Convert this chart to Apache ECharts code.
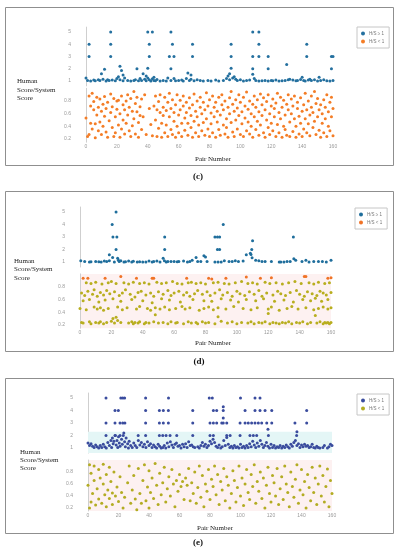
<!DOCTYPE html>
<html><head><meta charset="utf-8">
<script src="https://cdn.jsdelivr.net/npm/echarts@6/dist/echarts.min.js"></script>
<style>html,body{margin:0;padding:0;background:#fff}#chart{width:398px;height:550px}</style>
</head><body><div id="chart"></div>
<script>
// ---------- tick labels / text ----------
const xTicks = [0, 20, 40, 60, 80, 100, 120, 140, 160];
const yUpperTicks = [1, 2, 3, 4, 5];
const yLowerTicks = [0.2, 0.4, 0.6, 0.8];
const legendLabels = ['H/S \u2265 1', 'H/S < 1'];
const panelLabels = ['(c)', '(d)', '(e)'];
const yTitle = 'Human\nScore/System\nScore';
const xTitle = 'Pair Number';

// ---------- panel (c) ----------
const cHi = [[2,4],[2,3],[16,5],[16,4],[16,3],[40,5],[43,5],[41,4],[41,3],[55,5],[56,4],[54,3],[57,3],[69,4],[69,3],[94,4],[94,3],[108,5],[112,5],[112,4],[108,3],[112,3],[118,3],[143,4],[143,3],[159,3],[160,3],
[12,1.95],[22,2.2],[23,1.85],[33,2.0],[40,2.05],[55,2.0],[94,2.05],[108,2.0],[118,2.0],[130,2.35],[159,2.0],[10,1.6],[24,1.5],[37,1.6],[66,1.65],[68,1.5],[93,1.6],[108,1.55],[92,1.4],[96,1.35],[21,1.35],[39,1.4],[44,1.3],[140,1.3],[151,1.3],
[0,1.25],[1,1.05],[3,1.0],[5,1.08],[6,1.02],[8,1.1],[9,1.05],[11,1.15],[13,1.0],[14,1.1],[15,1.05],[17,1.08],[19,1.03],[20,1.2],[22,1.1],[24,1.02],[25,1.25],[27,1.05],[29,1.0],[31,1.05],[32,1.1],[34,1.02],[35,1.2],[36,1.05],[38,1.15],[39,1.03],[40,1.25],[41,1.1],[42,1.0],[43,1.18],[44,1.05],[45,1.02],[46,1.12],[48,1.0],[50,1.05],[52,1.0],[53,1.25],[55,1.05],[57,1.2],[58,1.03],[60,1.05],[62,1.08],[63,1.0],[65,1.2],[67,1.05],[68,1.15],[70,1.02],[72,1.1],[74,1.05],[76,1.0],[79,1.05],[81,1.0],[84,1.08],[86,1.0],[89,1.05],[91,1.2],[93,1.1],[95,1.25],[97,1.15],[98,1.05],[100,1.1],[102,1.0],[104,1.05],[106,1.08],[109,1.2],[110,1.05],[112,1.0],[114,1.03],[116,1.05],[118,1.0],[120,1.05],[121,1.02],[123,1.08],[125,1.0],[127,1.03],[129,1.05],[131,1.1],[132,1.15],[134,1.08],[136,1.02],[137,1.05],[139,1.12],[141,1.05],[142,1.0],[144,1.08],[145,1.15],[146,1.05],[148,1.1],[150,1.0],[152,1.05],[154,1.1],[156,1.03],[158,1.0],[160,1.05]];
const cLo = [[0,0.53],[1,0.24],[2,0.88],[2,0.27],[3,0.72],[3,0.45],[4,0.92],[4,0.36],[5,0.66],[5,0.79],[6,0.44],[6,0.22],[7,0.86],[7,0.58],[8,0.7],[8,0.33],[9,0.83],[9,0.47],[10,0.27],[10,0.64],[11,0.75],[11,0.4],[12,0.87],[12,0.56],[13,0.31],[13,0.68],[14,0.23],[14,0.78],[15,0.49],[16,0.91],[16,0.62],[17,0.38],[17,0.71],[18,0.24],[18,0.84],[19,0.55],[19,0.3],[20,0.8],[20,0.67],[21,0.81],[21,0.42],[22,0.23],[22,0.6],[23,0.88],[23,0.36],[24,0.74],[24,0.5],[25,0.28],[25,0.66],[26,0.8],[26,0.45],[27,0.9],[27,0.58],[28,0.33],[28,0.7],[29,0.24],[29,0.84],[30,0.64],[30,0.41],[31,0.95],[31,0.52],[32,0.76],[32,0.28],[33,0.63],[33,0.86],[34,0.46],[34,0.23],[35,0.71],[35,0.57],[36,0.83],[36,0.35],[37,0.55],[38,0.9],[39,0.27],[41,0.68],[42,0.43],[43,0.25],[44,0.72],[45,0.88],[45,0.5],[46,0.66],[46,0.24],[47,0.79],[47,0.37],[48,0.62],[48,0.9],[49,0.45],[49,0.23],[50,0.7],[50,0.57],[51,0.86],[51,0.3],[52,0.65],[52,0.42],[53,0.78],[53,0.24],[54,0.55],[54,0.92],[55,0.35],[55,0.68],[56,0.82],[56,0.27],[57,0.48],[57,0.62],[58,0.74],[58,0.23],[59,0.9],[59,0.4],[60,0.58],[60,0.3],[61,0.81],[61,0.66],[62,0.45],[62,0.24],[63,0.72],[63,0.88],[64,0.53],[64,0.34],[65,0.62],[65,0.78],[66,0.26],[66,0.45],[67,0.85],[67,0.69],[68,0.38],[68,0.57],[69,0.23],[69,0.74],[70,0.91],[70,0.48],[71,0.64],[71,0.3],[72,0.8],[72,0.55],[73,0.42],[73,0.24],[74,0.7],[74,0.86],[75,0.33],[75,0.6],[76,0.78],[76,0.46],[77,0.26],[77,0.66],[78,0.93],[78,0.52],[79,0.36],[79,0.72],[80,0.82],[80,0.24],[81,0.61],[81,0.44],[82,0.88],[82,0.3],[83,0.7],[83,0.55],[84,0.23],[84,0.78],[85,0.47],[85,0.64],[86,0.86],[86,0.35],[87,0.58],[87,0.26],[88,0.74],[88,0.9],[89,0.42],[89,0.66],[90,0.28],[90,0.8],[91,0.52],[91,0.38],[92,0.7],[92,0.23],[93,0.85],[93,0.6],[94,0.95],[94,0.46],[95,0.31],[95,0.75],[96,0.64],[96,0.24],[97,0.82],[97,0.5],[98,0.36],[98,0.69],[99,0.9],[99,0.57],[100,0.27],[100,0.78],[101,0.44],[101,0.63],[102,0.86],[102,0.24],[103,0.53],[103,0.72],[104,0.33],[104,0.94],[105,0.67],[105,0.47],[106,0.8],[106,0.28],[107,0.6],[107,0.4],[108,0.75],[108,0.23],[109,0.88],[109,0.55],[110,0.35],[110,0.7],[111,0.82],[111,0.48],[112,0.26],[112,0.63],[113,0.91],[113,0.42],[114,0.57],[114,0.74],[115,0.3],[115,0.85],[116,0.66],[116,0.23],[117,0.5],[117,0.79],[118,0.38],[118,0.9],[119,0.6],[119,0.27],[120,0.72],[120,0.45],[121,0.83],[121,0.33],[122,0.55],[122,0.68],[123,0.24],[123,0.77],[124,0.92],[124,0.43],[125,0.62],[125,0.3],[126,0.86],[126,0.52],[127,0.7],[127,0.23],[128,0.4],[128,0.81],[129,0.58],[129,0.35],[130,0.75],[130,0.26],[131,0.66],[131,0.9],[132,0.47],[132,0.24],[133,0.83],[133,0.6],[134,0.32],[134,0.72],[135,0.52],[135,0.88],[136,0.4],[136,0.23],[137,0.68],[137,0.78],[138,0.28],[138,0.56],[139,0.85],[139,0.45],[140,0.64],[140,0.24],[141,0.74],[141,0.36],[142,0.92],[142,0.52],[143,0.3],[143,0.66],[144,0.8],[144,0.44],[145,0.58],[145,0.25],[146,0.7],[146,0.88],[147,0.38],[147,0.62],[148,0.95],[148,0.48],[149,0.27],[149,0.76],[150,0.55],[150,0.84],[151,0.66],[151,0.34],[152,0.74],[152,0.23],[153,0.6],[153,0.45],[154,0.82],[154,0.3],[155,0.7],[155,0.52],[156,0.24],[156,0.9],[157,0.63],[157,0.4],[158,0.78],[158,0.33],[159,0.55],[159,0.86],[160,0.68],[160,0.25]];

// ---------- panel (d) ----------
const dHi = [[20.5,4],[21,3],[23.5,3],[23,2],[23,5],[54,3],[54,2],[86,3],[87.6,3],[89,3],[91.3,4],[87.6,2],[89,2],[110,2.7],[109.5,2.0],[109,1.6],[136,3.0],
[0.5,1.1],[3,1.05],[6,1.0],[7,1.02],[10,1.05],[12,1.03],[13.5,1.0],[15.5,1.08],[17,1.05],[18.7,1.1],[18.7,1.58],[20.8,1.37],[21.9,1.0],[24,1.3],[24.5,1.15],[25,1.05],[26,1.1],[28,1.0],[29,1.02],[31,1.08],[33,1.0],[34,1.07],[36.5,1.0],[38,1.02],[40,1.0],[42,1.0],[44,1.08],[46,1.0],[47,1.05],[49,1.08],[51,1.0],[53,1.3],[53.8,1.1],[55,1.0],[56,1.05],[58,1.05],[60,1.05],[62,1.02],[63,1.05],[66,1.08],[68.5,1.0],[70,1.05],[71.5,1.15],[74,1.37],[75,1.05],[77,1.05],[79,1.5],
[80,1.4],[81,1.05],[86,1.0],[88,1.0],[90,1.0],[92,1.1],[95,1.05],[97,1.05],[99,1.1],[101,1.05],[104,1.08],[106,1.58],[108.6,1.7],[109.7,1.35],[112,1.15],[114,1.1],[116,1.05],[118,1.05],[122,1.05],[127,1.0],[128,1.0],[130,1.0],[132,1.05],[134,1.05],[136.3,1.26],[137.5,1.15],[141.5,1.05],[144,1.15],[146,1.0],[149,1.05],[152,1.05],[154.5,1.05],[157,1.0],[160,1.15]];
const dLoTop = [[2,0.93],[5,0.93],[16,0.93],[26,0.96],[36,0.93],[46,0.93],[47,0.93],[68,0.93],[82,0.93],[84,0.92],[93,0.93],[106,0.95],[115,0.93],[122,0.94],[143,0.96],[144,0.96],[158,0.93],[160,0.94]];
const dLo = [[4,0.86],[7,0.85],[10,0.87],[14,0.84],[18,0.86],[20,0.88],[23,0.85],[28,0.86],[31,0.84],[34,0.87],[38,0.85],[41,0.86],[44,0.84],[49,0.87],[52,0.85],[55,0.86],[59,0.88],[62,0.85],[65,0.84],[69,0.86],[71,0.87],[74,0.85],[77,0.86],[80,0.84],[85,0.86],[88,0.87],[92,0.85],[95,0.84],[99,0.86],[103,0.88],[107,0.85],[110,0.86],[113,0.84],[118,0.87],[121,0.85],[125,0.86],[129,0.84],[133,0.86],[137,0.88],[141,0.85],[146,0.86],[149,0.84],[152,0.87],[156,0.85],[159,0.86],
[1,0.7],[3,0.66],[5,0.73],[8,0.68],[9,0.75],[11,0.65],[13,0.71],[15,0.67],[17,0.74],[19,0.69],[22,0.72],[25,0.66],[27,0.7],[29,0.75],[32,0.68],[35,0.64],[37,0.71],[39,0.73],[42,0.67],[45,0.7],[47,0.65],[50,0.72],[53,0.68],[56,0.74],[58,0.66],[60,0.7],[63,0.73],[66,0.67],[68,0.71],[70,0.65],[73,0.69],[75,0.74],[78,0.68],[81,0.72],[83,0.66],[86,0.7],[89,0.75],[91,0.67],[94,0.71],[97,0.65],[100,0.73],[102,0.69],[105,0.66],[108,0.72],[111,0.68],[114,0.74],[116,0.65],[119,0.7],[123,0.67],[126,0.73],[128,0.69],[131,0.66],[134,0.71],[138,0.74],[140,0.68],[143,0.65],[145,0.72],[148,0.69],[151,0.66],[153,0.73],[155,0.7],[157,0.67],[160,0.71],
[2,0.58],[6,0.6],[12,0.56],[16,0.59],[21,0.61],[26,0.57],[33,0.6],[40,0.58],[46,0.55],[52,0.61],[57,0.59],[64,0.56],[72,0.6],[79,0.58],[84,0.57],[90,0.61],[96,0.59],[101,0.56],[106,0.6],[112,0.58],[117,0.61],[124,0.57],[130,0.59],[136,0.56],[142,0.6],[147,0.58],[150,0.62],[154,0.57],[158,0.6],
[0,0.46],[4,0.44],[9,0.48],[11,0.45],[13,0.47],[15,0.43],[18,0.46],[24,0.48],[27,0.44],[30,0.47],[36,0.45],[38,0.49],[43,0.46],[45,0.43],[48,0.47],[51,0.45],[54,0.48],[57,0.44],[61,0.46],[65,0.49],[67,0.45],[70,0.47],[76,0.43],[79,0.46],[82,0.48],[85,0.44],[88,0.47],[93,0.45],[98,0.49],[104,0.46],[109,0.44],[113,0.47],[120,0.45],[122,0.48],[127,0.43],[132,0.46],[135,0.49],[139,0.45],[144,0.47],[149,0.44],[152,0.46],[155,0.48],[158,0.45],[160,0.47],
[21,0.3],[23,0.32],[48,0.36],[88,0.33],[120,0.38],[150,0.35],
[1,0.24],[2,0.23],[6,0.25],[7,0.22],[10,0.24],[12,0.23],[13,0.25],[15,0.22],[17,0.24],[20,0.26],[22,0.23],[24,0.27],[26,0.24],[31,0.23],[33,0.25],[34,0.22],[35,0.24],[37,0.23],[38,0.25],[41,0.22],[42,0.24],[44,0.23],[47,0.25],[50,0.23],[53,0.24],[56,0.22],[58,0.25],[61,0.23],[62,0.24],[66,0.22],[69,0.25],[71,0.23],[74,0.24],[75,0.22],[78,0.25],[80,0.23],[82,0.24],[86,0.22],[90,0.26],[94,0.23],[97,0.25],[100,0.22],[103,0.24],[107,0.23],[109,0.25],[111,0.22],[114,0.24],[116,0.23],[118,0.25],[121,0.22],[123,0.24],[125,0.23],[127,0.22],[129,0.24],[131,0.23],[133,0.25],[135,0.22],[138,0.24],[140,0.23],[142,0.25],[145,0.22],[147,0.24],[151,0.23],[153,0.25],[155,0.22],[156,0.24],[157,0.23],[158,0.24],[159,0.22],[160,0.24]];

// ---------- panel (e) ----------
const eHi = [[11.8,5],[21.5,5],[22.8,5],[24,5],[37.8,5],[52.8,5],[79.5,5],[81.5,5],[100,5],[109.5,5],[112.8,5],
[17.7,4],[19.9,4],[37.8,4],[46.8,4],[49.4,4],[52.7,4],[68.7,4],[82.2,4],[84.4,4],[88.7,4],[103,4],[109.5,4],[112.8,4],[116.1,4],[120.5,4],[143.4,4],[88.7,4.3],[88.7,3.4],
[11.8,3],[17.7,3],[21,3],[22.8,3],[24.2,3],[37.8,3],[46.8,3],[49.4,3],[52.7,3],[68.7,3],[80,3],[82.2,3],[84.4,3],[87.7,3],[88.7,3],[91,3],[99.7,3],[103,3],[105.1,3],[107.3,3],[109.5,3],[111.7,3],[113.9,3],[117.2,3],[120.5,3],[135.7,3],[143.4,3],
[11.8,2],[17.7,2],[21,2],[23.1,2],[32.9,2],[37.8,2],[46.8,2],[49,2],[51.2,2],[53.8,2],[58.2,2],[68.7,2],[80,2],[82.2,2],[91,2],[93.2,2],[99.7,2],[106.2,2],[108.4,2],[110.6,2],[118.3,2],[136.8,2],[118,2.5],[137,2.3],
[0,1.4],[1,1.2],[2,1.35],[3,1.15],[4,1.05],[5,1.25],[6,1.1],[7,1.0],[8,1.2],[9,1.05],[10,1.3],[11,1.1],[12,1.0],[13,1.45],[14,1.2],[15,1.6],[15.5,1.05],[16,1.8],[16.5,1.35],[17,1.55],[18,2.0],[18.5,1.25],[19,1.6],[19.5,1.05],[20,1.9],[20.5,1.4],[21,1.15],[22,1.7],[22.5,1.3],[23.5,2.2],[24,1.5],[24.5,1.1],[25,1.8],[26,1.35],[26.5,1.0],[27,1.55],[28,1.2],[29,1.05],[30,1.4],[31,1.2],[32,1.05],[33,1.6],[34,1.25],[35,1.45],[36,1.1],[37,1.3],[38,1.05],[39,1.5],[40,1.2],[41,1.35],[42,1.05],[43,1.25],[44,1.1],[45,1.0],[46,1.3],[47,1.15],[48,1.0],[49,1.05],[50,1.2],[51,1.0],[52,1.4],[53,1.1],[54,1.5],[55,1.25],[56,1.05],[57,1.3],[58,1.4],[59,1.15],[60,1.2],[61,1.0],[62,1.3],[63,1.1],[64,1.35],[65,1.05],[66,1.5],[67,1.2],[68,1.25],[69,1.1],[70,1.05],[72,1.1],[73,1.0],[74,1.2],[75,1.45],[76,1.15],[77,1.3],[78,1.05],[79,1.2],[80,1.55],[81,1.35],[82,1.7],[83,1.45],[84,1.15],[85,1.05],[86,1.25],[87,1.0],[88,1.1],[89,1.6],[90,1.2],[91,1.85],[92,1.3],[93,1.05],[94,1.15],[95,1.0],[96,1.2],[97,1.05],[98,1.1],[99,1.0],[100,1.3],[101,1.05],[102,1.15],[103,1.0],[104,1.2],[105,1.05],[106,1.35],[107,1.1],[108,1.55],[109,1.25],[110,1.05],[111,1.4],[112,1.15],[113,1.6],[114,1.3],[115,1.05],[116,1.2],[117,1.45],[118,1.15],[119,1.0],[120,1.3],[121,1.05],[122,1.2],[123,1.0],[124,1.1],[125,1.05],[126,1.2],[127,1.0],[128,1.15],[129,1.05],[130,1.25],[131,1.1],[132,1.0],[133,1.3],[134,1.15],[135,1.45],[136,1.6],[137,1.2],[138,1.35],[139,1.05],[140,1.25],[141,1.1],[142,1.3],[143,1.15],[144,1.2],[145,1.05],[146,1.1],[147,1.3],[148,1.05],[149,1.0],[150,1.15],[151,1.05],[152,1.0],[154,1.05],[155,1.2],[157,1.0],[158,1.1],[159,1.3],[160,1.2]];
const eLo = [[0,0.58],[1,0.2],[1,0.92],[2,0.78],[2,0.3],[3,0.44],[4,0.9],[4,0.66],[5,0.25],[6,0.52],[7,0.84],[7,0.35],[8,0.7],[9,0.28],[10,0.6],[10,0.93],[11,0.42],[12,0.22],[12,0.76],[13,0.5],[14,0.88],[14,0.36],[15,0.64],[16,0.26],[16,0.45],[17,0.8],[18,0.4],[19,0.55],[20,0.31],[21,0.72],[22,0.46],[23,0.2],[24,0.38],[26,0.62],[27,0.9],[28,0.28],[29,0.5],[30,0.74],[31,0.35],[32,0.17],[33,0.86],[34,0.44],[35,0.28],[36,0.66],[37,0.92],[38,0.32],[39,0.55],[40,0.82],[40,0.2],[41,0.46],[42,0.7],[43,0.36],[44,0.94],[45,0.58],[46,0.26],[47,0.78],[48,0.42],[49,0.62],[50,0.88],[51,0.3],[52,0.52],[53,0.72],[54,0.4],[55,0.84],[56,0.6],[57,0.22],[58,0.66],[59,0.48],[60,0.76],[61,0.56],[62,0.64],[63,0.34],[64,0.7],[65,0.58],[66,0.86],[67,0.32],[68,0.62],[69,0.44],[70,0.8],[71,0.28],[72,0.54],[73,0.9],[74,0.38],[75,0.74],[76,0.22],[77,0.6],[78,0.48],[79,0.84],[80,0.34],[81,0.68],[82,0.56],[83,0.9],[84,0.42],[85,0.76],[86,0.26],[87,0.64],[88,0.5],[89,0.86],[90,0.32],[91,0.72],[92,0.58],[93,0.2],[94,0.44],[95,0.82],[96,0.66],[97,0.3],[98,0.54],[99,0.9],[100,0.4],[101,0.7],[102,0.24],[103,0.6],[104,0.84],[105,0.46],[106,0.34],[107,0.76],[108,0.56],[109,0.92],[110,0.28],[111,0.64],[112,0.48],[113,0.8],[114,0.36],[115,0.7],[116,0.2],[117,0.58],[118,0.88],[119,0.44],[120,0.3],[121,0.74],[122,0.62],[123,0.4],[124,0.86],[125,0.26],[126,0.52],[127,0.72],[128,0.34],[129,0.9],[130,0.6],[131,0.46],[132,0.22],[133,0.8],[134,0.56],[135,0.38],[136,0.68],[137,0.92],[138,0.28],[139,0.5],[140,0.84],[141,0.42],[142,0.64],[143,0.2],[144,0.76],[145,0.54],[146,0.32],[147,0.88],[148,0.46],[149,0.7],[150,0.26],[151,0.6],[152,0.9],[153,0.4],[154,0.74],[155,0.3],[156,0.56],[157,0.85],[158,0.22],[159,0.66],[160,0.44]];

// ---------- layout & style ----------
const panels = [
  { key:'c', box:[5,7,388,158], left:86, width:247, upTop:27.1, upH:58.8, loTop:88.3, loH:53.9,
    series:[{name:'c_hi', data:cHi, up:true, color:'#24709f'}, {name:'c_lo', data:cLo, up:false, color:'#f47d26'}],
    legend:['c_hi','c_lo'], legendPos:[357,27], loBg:null, upBand:null,
    title:{x:17, y:77.5, lh:8.3}, xt:{x:213, y:159}, pl:{x:198, y:177} },
  { key:'d', box:[5,191,388,160], left:80, width:251, upTop:207, upH:60, loTop:273.9, loH:54.3,
    series:[{name:'d_hi', data:dHi, up:true, color:'#1f6e9c'}, {name:'d_lo2', data:dLo, up:false, color:'#b8ae1e'}, {name:'d_lo', data:dLoTop, up:false, color:'#f07326'}],
    legend:['d_hi','d_lo'], legendPos:[355,208], loBg:'#fdf1f1', upBand:null,
    title:{x:14, y:256.4, lh:8.7}, xt:{x:213, y:343}, pl:{x:199, y:362} },
  { key:'e', box:[5,378,388,155], left:88, width:244, upTop:393, upH:60, loTop:460, loH:51,
    series:[{name:'e_hi', data:eHi, up:true, color:'#3a4c9e'}, {name:'e_lo', data:eLo, up:false, color:'#b3ac22'}],
    legend:['e_hi','e_lo'], legendPos:[357,394], loBg:'#fdf1f1', upBand:'#e4f6f6',
    title:{x:20, y:448.2, lh:8.1}, xt:{x:215, y:528}, pl:{x:198, y:543} }
];

const grids = [], xAxes = [], yAxes = [], series = [], legends = [], graphics = [];
const labelColor = '#9a9a9a';
panels.forEach((p, pi) => {
  const gU = grids.length;
  grids.push({left:p.left, top:p.upTop, width:p.width, height:p.upH, containLabel:false});
  grids.push({left:p.left, top:p.loTop, width:p.width, height:p.loH, containLabel:false,
    show: !!p.loBg, backgroundColor: p.loBg || 'transparent', borderWidth:0});
  [gU, gU+1].forEach((g, k) => {
    xAxes.push({type:'value', gridIndex:g, min:xTicks[0], max:xTicks[xTicks.length-1], interval:xTicks[1]-xTicks[0],
      show: k === 1, axisLine:{show:false}, axisTick:{show:false}, splitLine:{show:false},
      axisLabel:{show:k===1, fontSize:5, color:labelColor, margin:2, fontFamily:'Liberation Sans'}});
  });
  yAxes.push({type:'value', gridIndex:gU, min:0.6, max:5.4, interval:0.2,
    axisLine:{show:true, lineStyle:{color:'#cfcfcf', width:1}}, axisTick:{show:false}, splitLine:{show:false},
    axisLabel:{fontSize:5, color:labelColor, margin:15, fontFamily:'Liberation Sans',
      formatter: v => { const t = yUpperTicks.find(u => Math.abs(u - v) < 1e-6); return t === undefined ? '' : String(t); }}});
  yAxes.push({type:'value', gridIndex:gU+1, min:0.15, max:1.0, interval:0.05,
    axisLine:{show:true, lineStyle:{color:'#cfcfcf', width:1}}, axisTick:{show:false}, splitLine:{show:false},
    axisLabel:{fontSize:5, color:labelColor, margin:15, fontFamily:'Liberation Sans',
      formatter: v => { const t = yLowerTicks.find(u => Math.abs(u - v) < 1e-6); return t === undefined ? '' : t.toFixed(1); }}});
  p.series.forEach(s => {
    const idx = s.up ? gU : gU + 1;
    const obj = {type:'scatter', name:s.name, xAxisIndex:idx, yAxisIndex:idx, data:s.data,
      symbol:'circle', symbolSize:3, itemStyle:{color:s.color, opacity:1}, clip:false, silent:true, z:3};
    if (s.up && p.upBand) {
      obj.markArea = {silent:true, itemStyle:{color:p.upBand}, data:[[{yAxis:0.6},{yAxis:2.3}]]};
    }
    series.push(obj);
  });
  legends.push({show:true, data:p.legend, left:p.legendPos[0], top:p.legendPos[1], orient:'vertical',
    icon:'circle', itemWidth:4, itemHeight:4, itemGap:3, itemSymbolKeepAspect:true,
    padding:[4,5,4,4], borderColor:'#c6c6c6', borderWidth:1, backgroundColor:'#fff',
    selectedMode:false,
    textStyle:{fontSize:4.5, color:'#777', fontFamily:'Liberation Sans', padding:[0,0,0,-1]},
    formatter: n => n.endsWith('_hi') ? legendLabels[0] : legendLabels[1]});
  graphics.push({type:'rect', shape:{x:p.box[0]+0.5, y:p.box[1]+0.5, width:p.box[2], height:p.box[3]},
    style:{fill:'none', stroke:'#8f8f8f', lineWidth:1}, z:0, silent:true});
  graphics.push({type:'text', x:p.title.x, y:p.title.y, silent:true,
    style:{text:yTitle, fontSize:7, fontFamily:'Liberation Serif', lineHeight:p.title.lh, fill:'#222', align:'left', verticalAlign:'top'}});
  graphics.push({type:'text', x:p.xt.x, y:p.xt.y, silent:true,
    style:{text:xTitle, fontSize:7, fontFamily:'Liberation Serif', fill:'#222', align:'center', verticalAlign:'middle'}});
  graphics.push({type:'text', x:p.pl.x, y:p.pl.y, silent:true,
    style:{text:panelLabels[pi], fontSize:9, fontWeight:'bold', fontFamily:'Liberation Serif', fill:'#111', align:'center', verticalAlign:'middle'}});
});

const chart = echarts.init(document.getElementById('chart'), null, {renderer:'canvas'});
chart.setOption({
  animation:false,
  backgroundColor:'#fff',
  grid:grids, xAxis:xAxes, yAxis:yAxes, series:series, legend:legends, graphic:graphics
});
</script></body></html>
